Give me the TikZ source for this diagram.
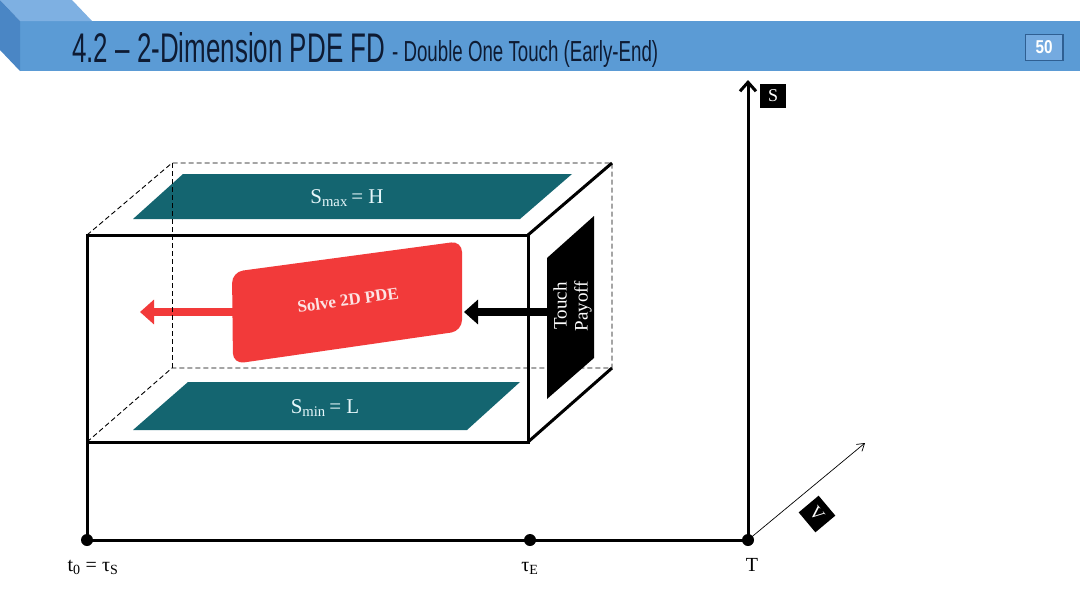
\documentclass[tikz,border=0pt]{standalone}
\usepackage{fontspec}
\setmainfont{Liberation Serif}
\setsansfont{Liberation Sans}
\usetikzlibrary{arrows.meta}
\definecolor{hdrfront}{HTML}{5B9BD5}
\definecolor{hdrtop}{HTML}{7EB0E2}
\definecolor{hdrleft}{HTML}{4A86C5}
\definecolor{titlecol}{HTML}{0E1B33}
\definecolor{platecol}{HTML}{146570}
\definecolor{platetext}{HTML}{E6F7FA}
\definecolor{redbox}{HTML}{F23A3A}
\definecolor{redtext}{HTML}{FCE4E4}
\definecolor{numfill}{HTML}{74AAE0}
\definecolor{numedge}{HTML}{2F5F92}
\begin{document}
\begin{tikzpicture}[x=1pt,y=-1pt,
  edge/.style={line width=3pt, line cap=butt},
  hidden/.style={black, line width=0.9pt, dash pattern=on 5pt off 3pt},
  dot/.style={circle, fill=black, minimum size=12pt, inner sep=0},
  plate/.style={fill=platecol},
  lbl/.style={font=\fontsize{20}{24}\selectfont, inner sep=0},
  platelbl/.style={font=\fontsize{21}{24}\selectfont, text=platetext, inner sep=0},
  fatarrow/.style={line width=8pt, -{Triangle[length=14pt,width=24pt]}},
  tag/.style={fill=black, text=white, inner sep=0, font=\fontsize{18}{20}\selectfont}
]
\useasboundingbox (0,0) rectangle (1080,608);
\fill[white] (0,0) rectangle (1080,608);
% ---------- header ----------
\fill[hdrfront] (20,21) rectangle (1080,71);
\fill[hdrtop] (0,0) -- (72,0) -- (92,21) -- (20,21) -- cycle;
\fill[hdrleft] (0,0) -- (20,21) -- (20,71) -- (0,50) -- cycle;
\node[anchor=base west, inner sep=0, text=titlecol] (title) at (72,62)
  {\resizebox{313pt}{30pt}{\sffamily 4.2 -- 2-Dimension PDE FD}};
\node[anchor=base west, inner sep=0, text=titlecol] (subtitle) at (392,61)
  {\resizebox{266pt}{21pt}{\sffamily - Double One Touch (Early-End)}};
\node[fill=numfill, draw=numedge, line width=0.8pt, minimum width=38pt, minimum height=26pt, inner sep=0, text=white] (num) at (1044,47.5)
  {\resizebox{17pt}{13pt}{\sffamily\bfseries 50}};
\draw[numedge, line width=2pt] (num.north east) -- (num.south east);
% ---------- box coordinates ----------
\coordinate (F1) at (87,235);
\coordinate (F2) at (528,235);
\coordinate (F3) at (528,442);
\coordinate (F4) at (87,442);
\coordinate (B1) at (172,163);
\coordinate (B2) at (612,163);
\coordinate (B3) at (612,368);
\coordinate (B4) at (172,368);
% ---------- plates ----------
\fill[plate] (133,219) -- (183,174) -- (572,174) -- (520,219) -- cycle;
\fill[plate] (133,430) -- (188,382) -- (520,382) -- (467,430) -- cycle;
\node[platelbl] (smax) at (347,198) {S\textsubscript{max}\,= H};
\node[platelbl] (smin) at (325,408) {S\textsubscript{min}\,= L};
% ---------- red arrow (behind dashed line) ----------
\coordinate (redL) at (236,312);
\coordinate (redTip) at (140,312);
\draw[fatarrow, redbox] (redL) -- (redTip);
% ---------- hidden edges ----------
\draw[hidden] (F1) -- (B1) -- (B2) -- (B3) -- (B4) -- (F4);
\draw[hidden] (B1) -- (B4);
% ---------- red solve box ----------
\fill[redbox, rounded corners=11pt] (232,272) -- (462,241) -- (462,331) -- (233,364) -- cycle;
\node[rotate=8, text=redtext, inner sep=0, font=\fontsize{17}{20}\selectfont\bfseries] (solve) at (348,300) {Solve 2D PDE};
% ---------- payoff panel ----------
\fill[black] (547,258) -- (594,216) -- (594,358) -- (547,399) -- cycle;
\node[rotate=90, text=white, inner sep=0, font=\fontsize{19}{22}\selectfont] (touch) at (560,306) {Touch};
\node[rotate=90, text=white, inner sep=0, font=\fontsize{19}{22}\selectfont] (payoff) at (583,306) {Payoff};
\coordinate (panelL) at (550,312);
\coordinate (blackTip) at (464,312);
\draw[fatarrow, black] (panelL) -- (blackTip);
% ---------- front / solid edges ----------
\draw[edge] (F1) -- (F2) -- (F3) -- (F4) -- cycle;
\draw[edge] (F2) -- (B2);
\draw[edge] (F3) -- (B3);
% ---------- axes ----------
\node[dot] (t0) at (87,540) {};
\node[dot] (tE) at (530,540) {};
\node[dot] (T) at (748,540) {};
\coordinate (Stip) at (748,80);
\coordinate (Vtip) at (865,443);
\draw[edge] (F4) -- (t0.center);
\draw[edge] (t0.center) -- (tE.center) -- (T.center);
\draw[edge, -{Straight Barb[length=9pt,width=16pt,line width=3pt]}] (T.center) -- (Stip);
\draw[line width=0.7pt, -{Straight Barb[length=7pt,width=9pt]}] (T.center) -- (Vtip);
% ---------- labels ----------
\node[lbl, anchor=base] (t0lab) at (93,571) {t\textsubscript{0} = τ\textsubscript{S}};
\node[lbl, anchor=base] (tElab) at (530,571) {τ\textsubscript{E}};
\node[lbl, anchor=base] (Tlab) at (752,571) {T};
\node[tag, minimum width=26pt, minimum height=24pt] (Slab) at (773,96) {S};
\node[tag, minimum width=26pt, minimum height=26pt, rotate=40] (Vlab) at (817,514) {\rotatebox{-90}{V}};
\end{tikzpicture}
\end{document}
